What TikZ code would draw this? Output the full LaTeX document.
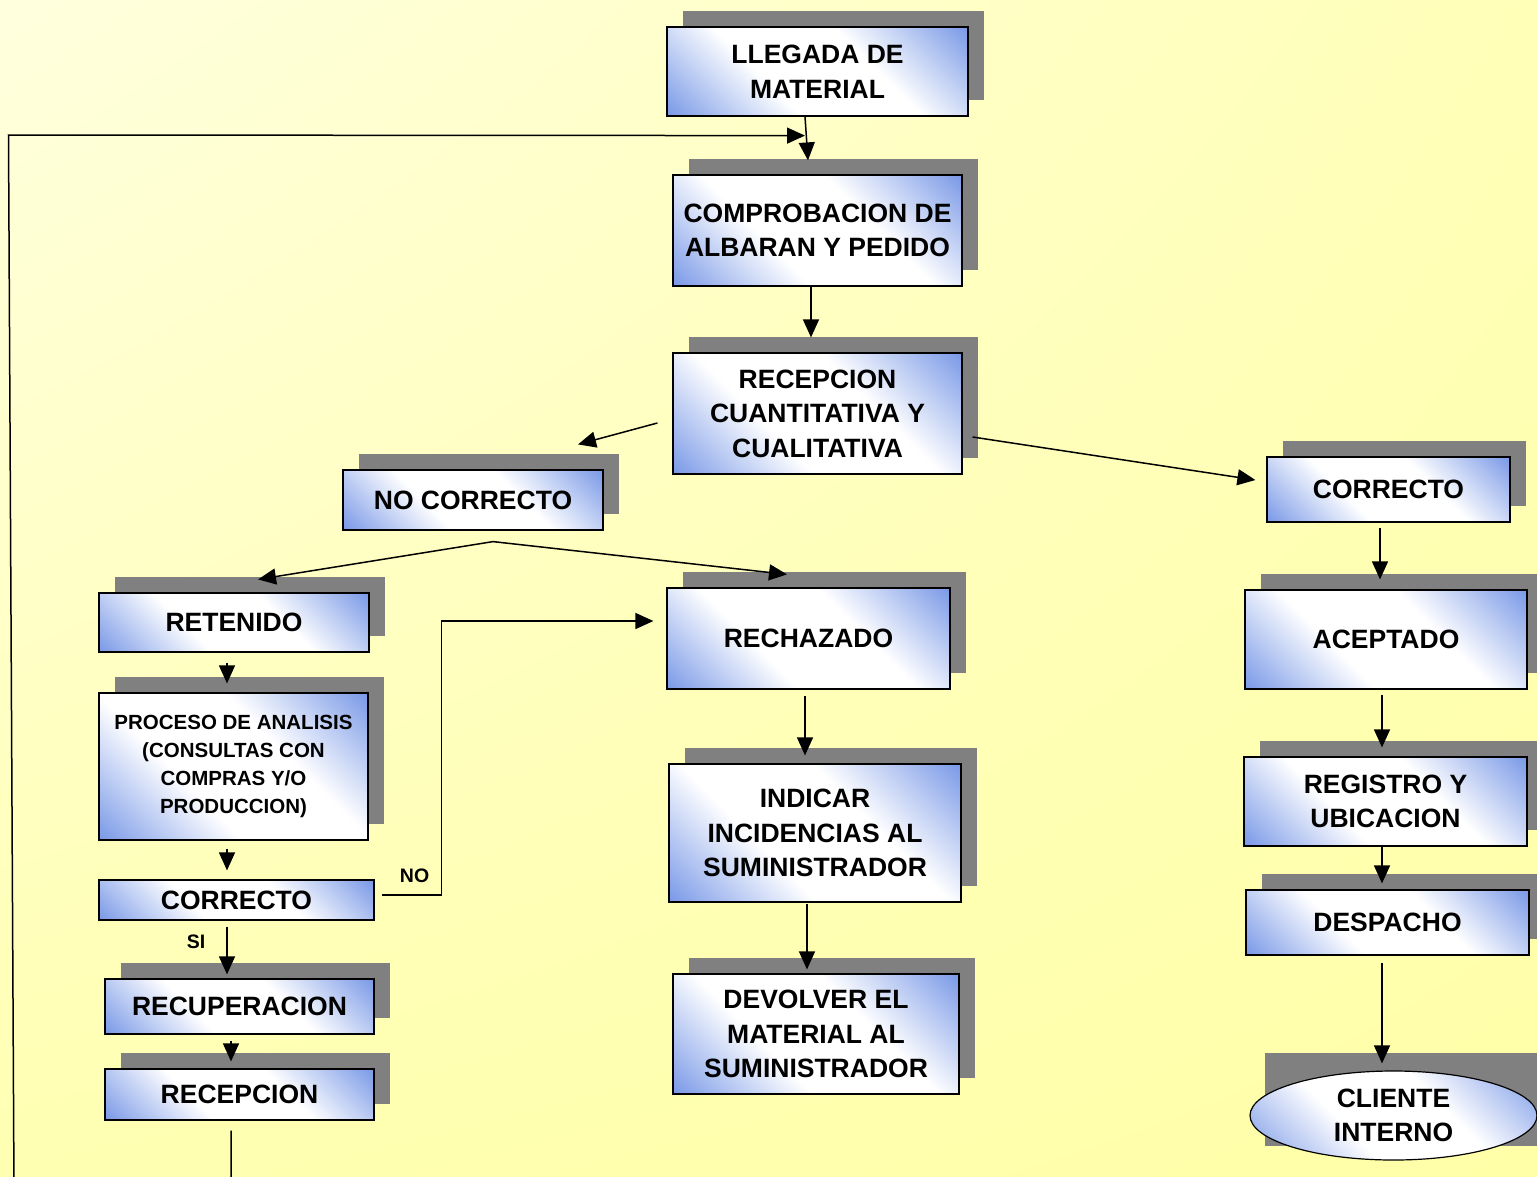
\documentclass[tikz,border=0pt]{standalone}
\usepackage{fontspec}
\setmainfont{Liberation Sans}
\usetikzlibrary{arrows.meta,shadows,shapes.geometric,shadings}

\definecolor{boxblue}{RGB}{118,150,230}
\definecolor{shadowgray}{RGB}{128,128,128}
\definecolor{bgA}{RGB}{255,255,222}
\definecolor{bgB}{RGB}{255,255,184}
\definecolor{bgC}{RGB}{255,255,178}
\definecolor{bgD}{RGB}{255,255,168}

% diagonal fill: blue corners, white band across the middle
\pgfdeclarehorizontalshading{boxshade}{100bp}{%
  color(0bp)=(boxblue); color(14bp)=(boxblue); color(39bp)=(white);
  color(61bp)=(white); color(86bp)=(boxblue); color(100bp)=(boxblue)}

\begin{document}
\begin{tikzpicture}[x=1pt,y=-1pt,
  box/.style={draw=black, line width=1.2pt, rectangle, inner sep=0pt, align=center,
    shading=boxshade, shading angle=45,
    font=\bfseries\fontsize{26.5}{34.5}\selectfont},
  boxsh/.style={box, drop shadow={shadow xshift=16pt, shadow yshift=16pt,
    fill=shadowgray, opacity=1}},
  link/.style={line width=1.5pt},
  arr/.style={link, -{Triangle[length=18pt,width=16pt]}},
  lbl/.style={font=\bfseries\fontsize{19.5}{22}\selectfont, inner sep=0pt}
]
\useasboundingbox (0,0) rectangle (1537,1176);
\clip (0,0) rectangle (1537,1176);
\shade[upper left=bgA, upper right=bgB, lower left=bgC, lower right=bgD]
  (0,0) rectangle (1537,1176);

% main column
\node[boxsh, minimum width=301pt, minimum height=89pt] (llegada) at (817.5,71.5) {LLEGADA DE\\MATERIAL};
\node[boxsh, minimum width=289pt, minimum height=111pt] (comprob) at (817.5,230.5) {COMPROBACION DE\\ALBARAN Y PEDIDO};
\node[boxsh, minimum width=289pt, minimum height=121pt] (recep) at (817.5,413.5) {RECEPCION\\CUANTITATIVA Y\\CUALITATIVA};

% rejected branch
\node[boxsh, minimum width=260pt, minimum height=60pt] (nocorr) at (473,500) {NO CORRECTO};
\node[boxsh, minimum width=270pt, minimum height=59pt] (retenido) at (234,622.5) {RETENIDO};
\node[boxsh, minimum width=269pt, minimum height=147pt,
  font=\bfseries\fontsize{20.5}{28}\selectfont] (proceso) at (233.5,766.5)
  {PROCESO DE ANALISIS\\(CONSULTAS CON\\COMPRAS Y/O\\PRODUCCION)};
\node[box, minimum width=275pt, minimum height=40pt] (corrL) at (236.5,900) {CORRECTO};
\node[boxsh, minimum width=269pt, minimum height=55pt] (recuper) at (239.5,1006.5) {RECUPERACION};
\node[boxsh, minimum width=269pt, minimum height=51pt] (recepcion) at (239.5,1094.5) {RECEPCION};
\node[boxsh, minimum width=283pt, minimum height=101pt] (rechazado) at (808.5,638.5) {RECHAZADO};
\node[boxsh, minimum width=292pt, minimum height=138pt] (indicar) at (815,833) {INDICAR\\INCIDENCIAS AL\\SUMINISTRADOR};
\node[boxsh, minimum width=286pt, minimum height=120pt] (devolver) at (816,1034) {DEVOLVER EL\\MATERIAL AL\\SUMINISTRADOR};

% accepted branch
\node[boxsh, minimum width=243pt, minimum height=65pt] (corrR) at (1388.5,489.5) {CORRECTO};
\node[boxsh, minimum width=282pt, minimum height=99pt] (aceptado) at (1386,639.5) {ACEPTADO};
\node[boxsh, minimum width=283pt, minimum height=89pt] (registro) at (1385.5,801.5) {REGISTRO Y\\UBICACION};
\node[boxsh, minimum width=283pt, minimum height=65pt] (despacho) at (1387.5,922.5) {DESPACHO};
\node[fill=shadowgray, inner sep=0pt, minimum width=288pt, minimum height=93pt] (clienteshadow) at (1409,1099.5) {};
\node[box, ellipse, minimum width=287pt, minimum height=89pt] (cliente) at (1393.5,1115.5) {CLIENTE\\INTERNO};

% connectors
\draw[arr] ([xshift=-12.5pt]llegada.south) -- ([xshift=-9.5pt,yshift=14pt]comprob.north);
\draw[arr] ([xshift=-6.5pt]comprob.south) -- ([xshift=-6.5pt,yshift=15pt]recep.north);
\draw[arr] ([xshift=-15pt,yshift=-9.5pt]recep.west) -- ([xshift=105pt,yshift=25pt]nocorr.north);
\draw[arr] ([xshift=10pt,yshift=-23.5pt]recep.east) -- ([xshift=-11pt,yshift=9.5pt]corrR.west);

\coordinate (split) at ([xshift=20pt,yshift=-11pt]nocorr.south);
\draw[arr] (split) -- ([xshift=24pt,yshift=13pt]retenido.north);
\draw[arr] (split) -- ([xshift=-21.5pt,yshift=13pt]rechazado.north);

\draw[arr] ([xshift=-7pt,yshift=-10pt]retenido.south) -- ([xshift=-6.5pt,yshift=9pt]proceso.north);
\draw[arr] ([xshift=-6.5pt,yshift=-8pt]proceso.south) -- ([xshift=-9.5pt,yshift=9pt]corrL.north);
\draw[arr] ([xshift=-9.5pt,yshift=-6pt]corrL.south) -- ([xshift=-12.5pt,yshift=4pt]recuper.north);
\node[lbl] (si) at ([xshift=-40.5pt,yshift=-21pt]corrL.south) {SI};
\draw[arr] ([xshift=7pt,yshift=5pt]corrL.east) -- ++(60pt,0) |- ([xshift=-13pt,yshift=17.5pt]rechazado.west);
\node[lbl] (no) at ([xshift=40pt,yshift=24pt]corrL.east) {NO};
\draw[arr] ([xshift=-8.5pt,yshift=-6pt]recuper.south) -- ([xshift=-8.5pt,yshift=7pt]recepcion.north);

\coordinate (loopbottom) at (14,1190);
\coordinate (looptop) at (8.5,135);
\draw[arr] ([xshift=-8.5pt,yshift=-10pt]recepcion.south) |- (loopbottom) -- (looptop)
  -- ([xshift=-12.5pt,yshift=-19pt]llegada.south);

\draw[arr] ([xshift=-3.5pt,yshift=-6pt]rechazado.south) -- ([xshift=-10pt,yshift=8pt]indicar.north);
\draw[arr] ([xshift=-8pt,yshift=-1pt]indicar.south) -- ([xshift=-9pt,yshift=4pt]devolver.north);

\draw[arr] ([xshift=-8.5pt,yshift=-5pt]corrR.south) -- ([xshift=-6pt,yshift=10pt]aceptado.north);
\draw[arr] ([xshift=-4pt,yshift=-5pt]aceptado.south) -- ([xshift=-3.5pt,yshift=9pt]registro.north);
\draw[arr] ([xshift=-3.5pt]registro.south) -- ([xshift=-5.5pt,yshift=6pt]despacho.north);
\draw[arr] ([xshift=-5.5pt,yshift=-7pt]despacho.south) -- ([xshift=-11.5pt,yshift=7pt]cliente.north);
\end{tikzpicture}
\end{document}
